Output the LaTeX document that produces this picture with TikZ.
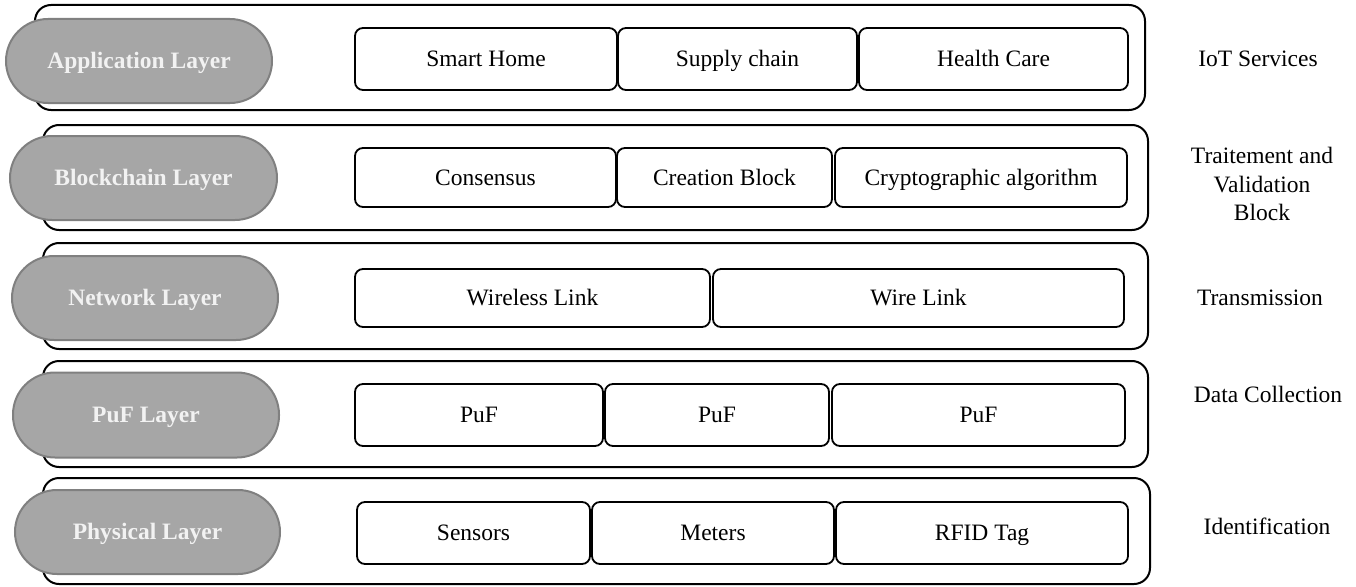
\documentclass[tikz,border=0pt]{standalone}
\usepackage{fontspec}
\setmainfont{Liberation Serif}
\begin{document}
\begin{tikzpicture}[x=1pt,y=-1pt,
  outerbox/.style={draw=black,line width=2pt,rounded corners=16pt,minimum height=105pt,inner sep=0pt},
  pillbox/.style={draw=black!50,fill=black!35,line width=2pt,rounded corners=42pt,minimum width=266pt,minimum height=84pt,inner sep=0pt,
    text=black!5,font=\fontsize{23.5}{28}\selectfont\bfseries,text height=15.8pt,text depth=0pt},
  itembox/.style={draw=black,line width=1.8pt,rounded corners=8pt,inner sep=0pt,font=\fontsize{23.5}{28}\selectfont,
    text height=15.6pt,text depth=0pt},
  sidelabel/.style={font=\fontsize{23.5}{28}\selectfont,inner sep=0pt,text height=15.6pt,text depth=0pt},
  multilabel/.style={font=\fontsize{23.5}{28.5}\selectfont,align=center,inner sep=0pt}]
\useasboundingbox (0,0) rectangle (1356,586);
% Row 1
\node[outerbox,minimum width=1110pt] (o1) at (590,57.5) {};
\node[pillbox] (p1) at (139,61) {Application Layer};
\node[itembox,minimum width=262pt,minimum height=62pt] (a1) at (486,59) {Smart Home};
\node[itembox,minimum width=239pt,minimum height=62pt] (a2) at (737.5,59) {Supply chain};
\node[itembox,minimum width=269pt,minimum height=62pt] (a3) at (993.5,59) {Health Care};
\node[sidelabel] (l1) at (1258,58.5) {IoT Services};
% Row 2
\node[outerbox,minimum width=1105pt] (o2) at (595.5,177.5) {};
\node[pillbox,minimum width=267pt] (p2) at (143.5,178) {Blockchain Layer};
\node[itembox,minimum width=261pt,minimum height=59pt] (b1) at (485.5,177.5) {Consensus};
\node[itembox,minimum width=215pt,minimum height=59pt] (b2) at (724.5,177.5) {Creation Block};
\node[itembox,minimum width=292pt,minimum height=59pt] (b3) at (981,177.5) {Cryptographic algorithm};
\node[multilabel] (l2) at (1262,184) {Traitement and\\Validation\\Block};
% Row 3
\node[outerbox,minimum width=1105pt,minimum height=106pt] (o3) at (595.5,296) {};
\node[pillbox] (p3) at (145,298) {Network Layer};
\node[itembox,minimum width=355pt,minimum height=58pt] (c1) at (532.5,298) {Wireless Link};
\node[itembox,minimum width=411pt,minimum height=58pt] (c2) at (918.5,298) {Wire Link};
\node[sidelabel] (l3) at (1260,298) {Transmission};
% Row 4
\node[outerbox,minimum width=1105pt,minimum height=106pt] (o4) at (595.5,414) {};
\node[pillbox,minimum height=85pt] (p4) at (146,415) {PuF Layer};
\node[itembox,minimum width=248pt,minimum height=62pt] (d1) at (479,415) {PuF};
\node[itembox,minimum width=224pt,minimum height=62pt] (d2) at (717,415) {PuF};
\node[itembox,minimum width=293pt,minimum height=62pt] (d3) at (978.5,415) {PuF};
\node[sidelabel] (l4) at (1268,395) {Data Collection};
% Row 5
\node[outerbox,minimum width=1107pt,minimum height=106pt] (o5) at (596.5,531) {};
\node[pillbox,minimum width=265pt] (p5) at (147.5,532) {Physical Layer};
\node[itembox,minimum width=233pt,minimum height=62pt] (e1) at (473.5,533) {Sensors};
\node[itembox,minimum width=242pt,minimum height=62pt] (e2) at (713,533) {Meters};
\node[itembox,minimum width=292pt,minimum height=62pt] (e3) at (982,533) {RFID Tag};
\node[sidelabel] (l5) at (1267,527) {Identification};
\end{tikzpicture}
\end{document}
